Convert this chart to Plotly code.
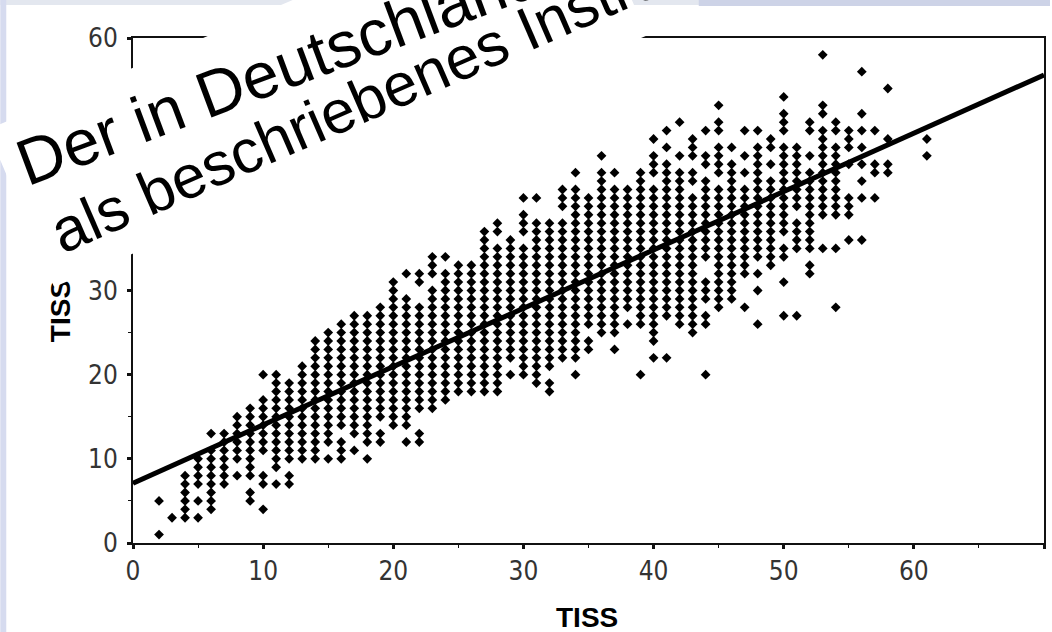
import math
import plotly.graph_objects as go

W, H = 1052, 632
ML, MR, MT, MB = 133, 6, 38, 89
PW, PH = W - ML - MR, H - MT - MB


def fx(px):
    return (px - ML) / PW


def fy(py):
    return (H - MB - py) / PH


# ---- data (x = TISS column, y values present) ----
x_cols = [2, 3, 4, 5, 6, 7, 8, 9, 10, 11, 12, 13, 14, 15, 16, 17, 18, 19, 20,
          21, 22, 23, 24, 25, 26, 27, 28, 29, 30, 31, 32, 33, 34, 35, 36, 37,
          38, 39, 40, 41, 42, 43, 44, 45, 46, 47, 48, 49, 50, 51, 52, 53, 54,
          55, 56, 57, 58, 61]
y_cols = [
    [1, 5],
    [3],
    [3, 4, 5, 6, 7, 8],
    [3, 5, 7, 8, 9, 10],
    [4, 5, 6, 7, 8, 9, 10, 11, 13],
    [7, 8, 9, 10, 11, 12, 13],
    [8, 10, 11, 12, 13, 14, 15],
    [5, 6, 8, 9, 10, 11, 12, 13, 14, 15, 16],
    [4, 7, 8, 11, 12, 13, 14, 15, 16, 17, 20],
    [7, 9, 10, 11, 12, 13, 14, 15, 16, 17, 18, 19, 20],
    [7, 8, 10, 11, 12, 13, 14, 15, 16, 17, 18, 19],
    [10, 11, 12, 13, 14, 15, 16, 17, 18, 19, 20, 21],
    [10, 11, 12, 13, 14, 15, 16, 17, 18, 19, 20, 21, 22, 23, 24],
    [10, 12, 13, 14, 15, 16, 17, 18, 19, 20, 21, 22, 23, 24, 25],
    [10, 11, 12, 14, 15, 16, 17, 18, 19, 20, 21, 22, 23, 24, 25, 26],
    [11, 13, 14, 15, 16, 17, 18, 19, 20, 21, 22, 23, 24, 25, 26, 27],
    [10, 12, 13, 14, 15, 16, 17, 18, 19, 20, 21, 22, 23, 24, 25, 26, 27],
    [12, 13, 15, 16, 17, 18, 19, 20, 21, 22, 23, 24, 25, 26, 27, 28],
    [14, 15, 16, 17, 18, 19, 20, 21, 22, 23, 24, 25, 26, 27, 28, 29, 30, 31],
    [12, 14, 15, 16, 17, 18, 19, 20, 21, 22, 23, 24, 25, 26, 27, 28, 29, 32],
    [12, 13, 16, 17, 18, 19, 20, 21, 22, 23, 24, 25, 26, 27, 28, 31, 32],
    [16, 17, 18, 19, 20, 21, 22, 23, 24, 25, 26, 27, 28, 29, 30, 32, 33, 34],
    [17, 18, 19, 20, 21, 22, 23, 24, 25, 26, 27, 28, 29, 30, 31, 32, 34],
    [18, 19, 20, 21, 22, 23, 24, 25, 26, 27, 28, 29, 30, 31, 32, 33],
    [18, 19, 20, 21, 22, 23, 24, 25, 26, 27, 28, 29, 30, 31, 32, 33],
    [18, 19, 20, 21, 22, 23, 24, 25, 26, 27, 28, 29, 30, 31, 32, 33, 34, 35,
     36, 37],
    [18, 19, 20, 21, 22, 23, 24, 25, 26, 27, 28, 29, 30, 31, 32, 33, 34, 35,
     37, 38],
    [20, 22, 23, 24, 25, 26, 27, 28, 29, 30, 31, 32, 33, 34, 35, 36],
    [20, 21, 22, 23, 24, 25, 26, 27, 28, 29, 30, 31, 32, 33, 34, 35, 37, 38,
     39, 41],
    [19, 20, 21, 22, 23, 24, 25, 26, 27, 28, 29, 30, 31, 32, 33, 34, 35, 36,
     37, 38, 41],
    [18, 19, 21, 22, 23, 24, 25, 26, 27, 28, 29, 30, 31, 32, 33, 34, 35, 36,
     37, 38],
    [22, 23, 24, 25, 26, 27, 28, 29, 30, 31, 32, 33, 34, 35, 36, 37, 38, 40,
     41, 42],
    [20, 22, 23, 24, 25, 26, 27, 28, 29, 30, 31, 32, 33, 34, 35, 36, 37, 38,
     39, 40, 41, 42, 44],
    [23, 24, 26, 27, 28, 29, 30, 31, 32, 33, 34, 35, 36, 37, 38, 39, 40, 41],
    [25, 26, 27, 28, 29, 30, 31, 32, 33, 34, 35, 36, 37, 38, 39, 40, 41, 42,
     43, 44, 46],
    [23, 25, 26, 27, 28, 29, 30, 31, 32, 33, 34, 35, 36, 37, 38, 39, 40, 41,
     42, 44],
    [26, 28, 29, 30, 31, 32, 33, 34, 35, 36, 37, 38, 39, 40, 41, 42],
    [20, 26, 27, 28, 29, 30, 31, 32, 33, 34, 35, 36, 37, 38, 39, 40, 41, 42,
     43, 44],
    [22, 24, 25, 26, 27, 28, 29, 30, 31, 32, 33, 34, 35, 36, 37, 38, 39, 40,
     41, 42, 44, 45, 46, 48],
    [22, 27, 28, 29, 30, 31, 32, 33, 34, 35, 36, 37, 38, 39, 40, 41, 42, 43,
     44, 45, 47, 49],
    [26, 27, 28, 29, 30, 31, 32, 33, 34, 35, 36, 37, 38, 39, 40, 41, 42, 43,
     44, 46, 50],
    [25, 26, 27, 28, 29, 30, 31, 32, 33, 34, 35, 36, 37, 38, 39, 40, 41, 43,
     44, 46, 47, 48],
    [20, 26, 27, 29, 30, 31, 34, 35, 36, 37, 38, 39, 40, 41, 42, 43, 45, 46,
     49],
    [28, 29, 30, 31, 32, 33, 34, 35, 36, 37, 38, 39, 40, 41, 42, 44, 45, 46,
     47, 49, 50, 52],
    [29, 30, 31, 32, 33, 34, 35, 36, 37, 38, 39, 40, 41, 42, 43, 44, 45, 47],
    [28, 32, 33, 34, 35, 36, 37, 38, 39, 40, 41, 42, 44, 46, 49],
    [26, 30, 32, 34, 35, 36, 37, 38, 39, 40, 41, 42, 43, 44, 45, 46, 47, 49],
    [33, 34, 35, 36, 37, 38, 39, 40, 41, 42, 43, 45, 47, 48],
    [27, 31, 34, 35, 37, 38, 39, 40, 41, 42, 43, 44, 45, 46, 47, 49, 50, 51,
     53],
    [27, 35, 36, 37, 38, 40, 41, 42, 43, 44, 45, 46, 47],
    [32, 33, 35, 36, 37, 38, 39, 40, 41, 42, 43, 44, 46, 49, 50],
    [35, 39, 40, 41, 42, 43, 44, 45, 46, 47, 48, 49, 51, 52, 58],
    [28, 35, 39, 40, 41, 42, 43, 44, 45, 46, 47, 49, 50],
    [36, 39, 40, 41, 45, 47, 48, 49],
    [36, 41, 43, 45, 47, 49, 51, 56],
    [41, 44, 45, 49],
    [44, 45, 48, 54],
    [46, 48],
]

fit_intercept = 7.1
fit_slope = 0.693
fit_x = [0, 70]

x_range = [0, 70]
y_range = [0, 60]
x_ticks = [0, 10, 20, 30, 40, 50, 60, 70]
y_ticks = [0, 10, 20, 30, 40, 50, 60]
axis_title = "TISS"
overlay_line1 = "Der in Deutschland"
overlay_line2 = "als beschriebenes Instrument"

xs, ys = [], []
for xv, col in zip(x_cols, y_cols):
    for yv in col:
        xs.append(xv)
        ys.append(yv)

fig = go.Figure()
fig.add_trace(go.Scatter(
    x=xs, y=ys, mode="markers",
    marker=dict(symbol="diamond", size=7.5, color="black", line=dict(width=0)),
    showlegend=False, hoverinfo="skip"))
fig.add_trace(go.Scatter(
    x=fit_x, y=[fit_intercept + fit_slope * v for v in fit_x], mode="lines",
    line=dict(color="black", width=5), showlegend=False, hoverinfo="skip"))

tick_font = dict(family="Liberation Sans Narrow, Arial Narrow, DejaVu Sans Condensed, sans-serif",
                 size=26, color="#333333")
axis_common = dict(
    showgrid=False, zeroline=False, showline=True, linecolor="#111111",
    linewidth=2, mirror=True, ticks="outside", ticklen=4, tickwidth=3,
    tickcolor="#111111", tickfont=tick_font,
    minor=dict(dtick=5, ticks="outside", ticklen=3, tickwidth=1,
               tickcolor="#111111", showgrid=False),
)

fig.update_xaxes(range=x_range, tickvals=x_ticks, **axis_common)
fig.update_yaxes(range=y_range, tickvals=y_ticks, ticklabelstandoff=4,
                 **axis_common)

title_font = dict(family="Liberation Sans, Arial, sans-serif", size=28,
                  color="black", weight="bold")


def line_anchor(sx, sy, size, angle_deg):
    """Left/bottom anchor of a rotated one-line annotation whose baseline
    starts at pixel (sx, sy)."""
    a = math.radians(angle_deg)
    s, c = math.sin(a), math.cos(a)
    d = 0.212 * size + 2
    blx = sx + d * s - 2 * c
    bly = sy + d * c + 2 * s
    h = 1.117 * size + 4
    return fx(blx - h * s), fy(bly)


L1_SIZE, L1_ANG = 65, 20.5
L2_SIZE, L2_ANG = 61, 23.5
l1x, l1y = line_anchor(27.0, 186.9, L1_SIZE, L1_ANG)
l2x, l2y = line_anchor(62.5, 254.5, L2_SIZE, L2_ANG)

annotations = [
    dict(x=fx(60), y=fy(311), xref="paper", yref="paper", text=axis_title,
         textangle=-90, showarrow=False, font=title_font,
         xanchor="center", yanchor="middle"),
    dict(x=fx(588), y=fy(617), xref="paper", yref="paper", text=axis_title,
         showarrow=False, font=title_font, xanchor="center", yanchor="middle"),
    # white text-box fill of the overlaid slide text
    dict(x=fx(317.5), y=fy(82.2), xref="paper", yref="paper", text="&nbsp;",
         width=644, height=171, textangle=-23, bgcolor="white",
         borderpad=0, borderwidth=0, showarrow=False,
         xanchor="center", yanchor="middle"),
    dict(x=l1x, y=l1y, xref="paper", yref="paper",
         text=overlay_line1, textangle=-L1_ANG, showarrow=False,
         font=dict(family="Liberation Sans, Arial, sans-serif", size=L1_SIZE,
                   color="black"),
         xanchor="left", yanchor="bottom"),
    dict(x=l2x, y=l2y, xref="paper", yref="paper",
         text=overlay_line2, textangle=-L2_ANG, showarrow=False,
         font=dict(family="Liberation Sans, Arial, sans-serif", size=L2_SIZE,
                   color="black"),
         xanchor="left", yanchor="bottom"),
]

shapes = [
    dict(type="rect", xref="paper", yref="paper", layer="below",
         x0=fx(0), x1=fx(W), y0=fy(5), y1=fy(0), line=dict(width=0),
         fillcolor="#e3e7ef"),
    dict(type="rect", xref="paper", yref="paper", layer="below",
         x0=fx(700), x1=fx(W), y0=fy(6), y1=fy(0), line=dict(width=0),
         fillcolor="#cdd3e7"),
    dict(type="rect", xref="paper", yref="paper", layer="below",
         x0=fx(0), x1=fx(6), y0=fy(H), y1=fy(0), line=dict(width=0),
         fillcolor="#d6dbef"),
]

fig.update_layout(
    width=W, height=H, autosize=False,
    margin=dict(l=ML, r=MR, t=MT, b=MB, pad=0),
    paper_bgcolor="white", plot_bgcolor="white",
    annotations=annotations, shapes=shapes, showlegend=False,
)

fig.write_html("out.html")
